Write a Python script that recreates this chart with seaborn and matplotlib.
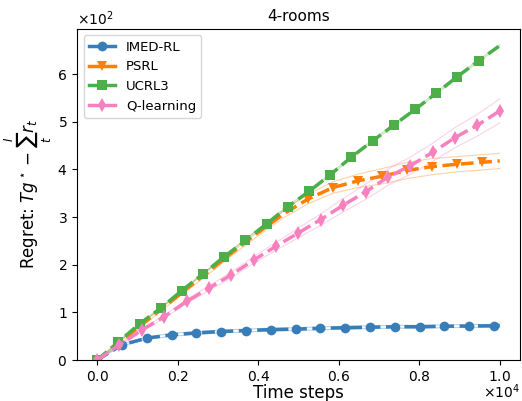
import matplotlib
matplotlib.use("Agg")
import matplotlib.pyplot as plt
import numpy as np
import seaborn as sns
from matplotlib.lines import Line2D

# regret curves (time steps, regret)
imed_x = [616 * k for k in range(17)] + [10000]
imed_y = [0, 32, 46, 53, 57, 60, 62, 64, 65, 66.7, 68, 69, 70, 70, 71, 71.5, 72, 72.5]
imed_sd = [0, 2, 2.5, 3, 3, 3, 3, 3, 3, 3, 3, 3, 3, 3, 3, 3, 3, 3]

psrl_x = [0] + [616 * (k + 0.5) for k in range(16)] + [10000]
psrl_y = [0, 20, 62, 103, 145, 186, 228, 268, 306, 338, 362, 376, 386, 398, 406, 411, 415, 418]
psrl_sd = [0, 1, 3, 3, 4, 5, 6, 7, 8, 10, 12, 14, 16, 17, 17, 16, 16, 16]

ucrl_x = [10000 / 19 * k for k in range(19)] + [10000]
ucrl_y = [0, 38, 76, 109, 146, 181, 217, 251, 286, 322, 354, 389, 426, 460, 493, 526, 560, 595, 628, 660]
ucrl_sd = [0, 1, 1, 1.5, 1.5, 1.5, 2, 2, 2, 2, 2, 2, 2, 2, 2, 2, 2, 2, 2, 2]

qlearn_x = [10000 / 18 * k for k in range(19)]
qlearn_y = [0, 32, 63, 91, 123, 151, 179, 210, 239, 267, 295, 325, 353, 384, 408, 436, 467, 493, 523]
qlearn_sd = [0, 1, 2, 3, 4, 5, 6, 7, 8, 10, 12, 14, 16, 17, 18, 19, 21, 23, 25]

series = [
    ("IMED-RL", imed_x, imed_y, imed_sd, "#377eb8", "o", slice(0, -1)),
    ("PSRL", psrl_x, psrl_y, psrl_sd, "#ff7f00", "v", slice(9, -1)),
    ("UCRL3", ucrl_x, ucrl_y, ucrl_sd, "#4daf4a", "s", slice(0, -1)),
    ("Q-learning", qlearn_x, qlearn_y, qlearn_sd, "#f781bf", "d", None),
]

fig, ax = plt.subplots(figsize=(5.22, 4.01), dpi=100)
fig.subplots_adjust(left=0.1475, right=0.996, top=0.928, bottom=0.102)

handles = []
for name, x, y, sd, col, mk, every in series:
    x = np.asarray(x, dtype=float)
    y = np.asarray(y, dtype=float)
    sd = np.asarray(sd, dtype=float)
    ax.plot(x, y - sd, color=col, lw=0.8, alpha=0.35)
    ax.plot(x, y + sd, color=col, lw=0.8, alpha=0.35)
    sns.lineplot(x=x, y=y, ax=ax, color=col, linestyle="--", lw=2.5,
                 marker=mk, markersize=7, markevery=every,
                 markeredgewidth=0, sort=False)
    handles.append(Line2D([], [], color=col, lw=2.5, marker=mk,
                          markersize=7, markeredgewidth=0, label=name))

ax.set_ylim(bottom=0)
ax.ticklabel_format(style="sci", axis="both", scilimits=(0, 0), useMathText=True)
# x multiplier drawn by hand, a bit closer to the tick labels
ax.xaxis.get_offset_text().set_visible(False)
ax.text(1.0, -0.095, r"$\times10^{4}$", transform=ax.transAxes,
        ha="right", va="center", fontsize=10)
ax.set_title("4-rooms", fontsize=11)
ax.set_xlabel("Time steps", fontsize=12, labelpad=0)
ax.set_ylabel(r"Regret: $Tg^\star - \sum_t^I r_t$", fontsize=12, labelpad=2)
ax.legend(handles=handles, loc="upper left", fontsize=9.5)

fig.savefig("out.png", dpi=100)
